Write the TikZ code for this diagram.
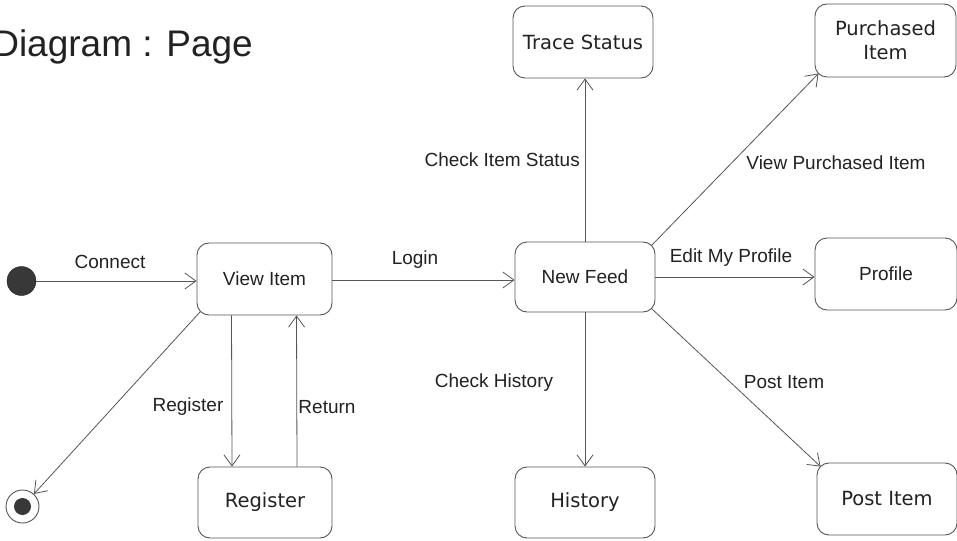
\documentclass[tikz,border=0pt]{standalone}
\usepackage{fontspec}
\setmainfont{Liberation Sans}
\newfontfamily\vfont{DejaVu Sans}
\usetikzlibrary{arrows.meta,calc}
\definecolor{ln}{HTML}{555555}
\definecolor{tx}{HTML}{222222}
\tikzset{
  state/.style={draw=ln, line width=0.9pt, rounded corners=12pt, inner sep=0pt,
    text=tx, align=center, font=\fontsize{19}{22}\selectfont},
  vstate/.style={state, font=\vfont\fontsize{19.5}{24}\selectfont},
  arr/.style={draw=ln, line width=0.8pt, -{Straight Barb[length=11pt,width=16pt,line width=0.8pt]}},
  lbl/.style={text=tx, inner sep=0pt, font=\fontsize{19}{22}\selectfont},
}
\begin{document}
\begin{tikzpicture}[x=1pt,y=-1pt]
\useasboundingbox (0,0) rectangle (957,540);
\fill[white] (0,0) rectangle (957,540);
% title
\node[anchor=base east, inner sep=0pt, text=tx, font=\fontsize{37}{42}\selectfont] (title) at (253,57) {Diagram : Page};
% states
\node[state, minimum width=135pt, minimum height=72pt] (vi) at (264.5,279) {View Item};
\node[vstate, minimum width=134pt, minimum height=71pt] (reg) at (265,502.5) {Register};
\node[vstate, minimum width=140pt, minimum height=72pt] (ts) at (583,42) {Trace Status};
\node[vstate, minimum width=141pt, minimum height=73pt] (pur) at (885.5,40.5) {Purchased\\Item};
\node[state, minimum width=140pt, minimum height=70pt] (nf) at (585,277) {New Feed};
\node[state, minimum width=142pt, minimum height=72pt] (prof) at (886,274) {Profile};
\node[vstate, minimum width=140pt, minimum height=72pt] (post) at (887,499) {Post Item};
\node[vstate, minimum width=140pt, minimum height=71pt] (hist) at (585,502.5) {History};
% initial / final
\node[circle, fill=tx!90, draw=tx, minimum size=29pt, inner sep=0pt] (init) at (21.5,281) {};
\node[circle, draw=ln, line width=0.9pt, minimum size=33pt, inner sep=0pt] (fin) at (22.5,506.5) {};
\node[circle, fill=tx!90, minimum size=17pt, inner sep=0pt] (finin) at (fin.center) {};
% connectors
\draw[arr] (init) -- (vi.west |- init);
\node[lbl] (lc) at (110,262) {Connect};
\draw[arr] (vi.east |- 0,280) -- (nf.west |- 0,280);
\node[lbl] (ll) at (415,260) {Login};
\draw[arr] ($(vi.south west)+(3.5,-3.5)$) -- (fin);
\draw[arr] ([xshift=-33pt]vi.south) -- ([xshift=-33pt]reg.north);
\draw[arr] ([xshift=32pt]reg.north) -- ([xshift=32pt]vi.south);
\node[lbl] (lreg) at (188,407) {Register};
\node[lbl] (lret) at (327,407) {Return};
\draw[arr] (nf.north) -- (ts.south -| nf.north);
\node[lbl, anchor=east] (lcis) at (580,160) {Check Item Status};
\draw[arr] ($(nf.north east)+(-4,4)$) -- ($(pur.south west)+(4,-4)$);
\node[lbl] (lvp) at (836,163) {View Purchased Item};
\draw[arr] (nf.east) -- (prof.west |- nf.east);
\node[lbl] (lep) at (731,258) {Edit My Profile};
\draw[arr] ($(nf.south east)+(-4,-4)$) -- ($(post.north west)+(4,4)$);
\node[lbl] (lpi) at (784,382) {Post Item};
\draw[arr] (nf.south) -- (hist.north);
\node[lbl] (lch) at (494,383) {Check History};
\end{tikzpicture}
\end{document}
